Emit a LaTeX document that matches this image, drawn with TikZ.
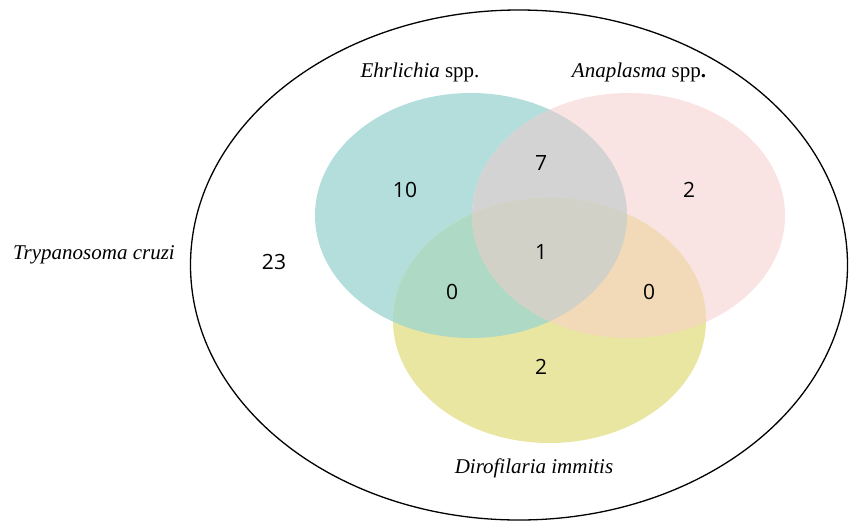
\documentclass[tikz,border=0pt]{standalone}
\usepackage{fontspec}
\setmainfont{Liberation Serif}
\newfontfamily\numfont{Open Sans}
\definecolor{vennA}{HTML}{B3DEDC}
\definecolor{vennB}{HTML}{F9E3E3}
\definecolor{vennC}{HTML}{E9E6A2}
\definecolor{vennAB}{HTML}{D3D3D3}
\definecolor{vennAC}{HTML}{ADD9C5}
\definecolor{vennBC}{HTML}{F2DAB9}
\definecolor{vennABC}{HTML}{D1D1C7}
\tikzset{
  num/.style={font=\numfont\fontsize{21}{24}\selectfont, inner sep=0pt},
  lab/.style={font=\fontsize{21}{24}\selectfont, inner sep=0pt},
}
\begin{document}
\begin{tikzpicture}[x=1pt,y=-1pt]
\useasboundingbox (0,0) rectangle (849,523);
\fill[vennA] (471,215.5) ellipse [x radius=156, y radius=122.5];
\fill[vennB] (628.5,215.5) ellipse [x radius=156.5, y radius=122.5];
\fill[vennC] (549.5,320.5) ellipse [x radius=156.5, y radius=122.5];
\begin{scope}
\clip (471,215.5) ellipse [x radius=156, y radius=122.5];
\fill[vennAB] (628.5,215.5) ellipse [x radius=156.5, y radius=122.5];
\end{scope}
\begin{scope}
\clip (471,215.5) ellipse [x radius=156, y radius=122.5];
\fill[vennAC] (549.5,320.5) ellipse [x radius=156.5, y radius=122.5];
\end{scope}
\begin{scope}
\clip (628.5,215.5) ellipse [x radius=156.5, y radius=122.5];
\fill[vennBC] (549.5,320.5) ellipse [x radius=156.5, y radius=122.5];
\end{scope}
\begin{scope}
\clip (471,215.5) ellipse [x radius=156, y radius=122.5];
\clip (628.5,215.5) ellipse [x radius=156.5, y radius=122.5];
\fill[vennABC] (549.5,320.5) ellipse [x radius=156.5, y radius=122.5];
\end{scope}
\draw[line width=1.3pt] (519,265) ellipse [x radius=328.5, y radius=255];
\node[num] (n10) at (405,190) {10};
\node[num] (n7) at (541,163) {7};
\node[num] (n2b) at (689,190) {2};
\node[num] (n23) at (274,262) {23};
\node[num] (n1) at (541,252) {1};
\node[num] (n0l) at (452,292) {0};
\node[num] (n0r) at (649,292) {0};
\node[num] (n2c) at (541,367) {2};
\node[lab] (le) at (420,72) {\textit{Ehrlichia} spp.};
\node[lab] (la) at (639,72) {\textit{Anaplasma} spp\textbf{.}};
\node[lab] (lt) at (94,255) {\textit{Trypanosoma cruzi}};
\node[lab] (ld) at (534,468) {\textit{Dirofilaria immitis}};
\end{tikzpicture}
\end{document}
